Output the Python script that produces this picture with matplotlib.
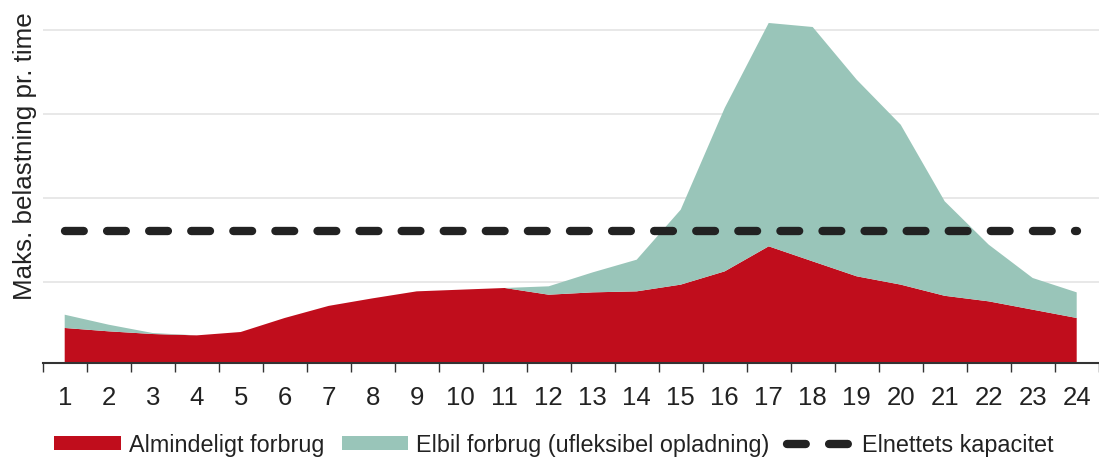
import matplotlib
matplotlib.use("Agg")
import matplotlib.pyplot as plt
import numpy as np
from matplotlib.patches import Patch
from matplotlib.lines import Line2D

plt.rcParams['font.family'] = ['Liberation Sans', 'DejaVu Sans']
plt.rcParams['lines.scale_dashes'] = False

hours = list(range(1, 25))
hour_labels = [str(h) for h in hours]
almindeligt = [0.417, 0.377, 0.345, 0.329, 0.369, 0.536, 0.680, 0.770, 0.853, 0.873, 0.893, 0.813,
               0.841, 0.853, 0.933, 1.091, 1.389, 1.210, 1.032, 0.933, 0.800, 0.734, 0.635, 0.536]
elbil = [0.158, 0.079, 0.012, 0.000, 0.000, 0.000, 0.000, 0.000, 0.000, 0.000, 0.000, 0.100,
         0.238, 0.377, 0.892, 1.945, 2.659, 2.790, 2.341, 1.904, 1.125, 0.675, 0.377, 0.305]
kapacitet = [1.57] * 24

legend_labels = ["Almindeligt forbrug", "Elbil forbrug (ufleksibel opladning)", "Elnettets kapacitet"]

RED = "#C00D1C"
GREEN = "#99C5B9"
DASH = "#222222"

fig = plt.figure(figsize=(10.99, 4.60), dpi=100)
ax = fig.add_axes([42.7 / 1099, 96 / 460, 1056 / 1099, 364 / 460])

ax.stackplot(hours, almindeligt, elbil, colors=[RED, GREEN], linewidth=0, zorder=2)
ax.plot(hours, kapacitet, color=DASH, linewidth=6, dashes=(13.5, 16.8),
        dash_capstyle='round', solid_capstyle='round', zorder=3)

ax.set_xlim(0.5, 24.5)
ax.set_ylim(0, 364 / 84)

# gridlines
ax.set_yticks(np.arange(1, 5) - 0.03)
ax.set_yticklabels([])
ax.tick_params(axis='y', length=0)
ax.yaxis.grid(True, color="#E2E2E2", linewidth=1.1, zorder=0)
ax.set_axisbelow(True)

# x ticks: boundaries as major ticks, labels centered as minor
ax.set_xticks(np.arange(0.5, 25.5, 1.0))
ax.set_xticklabels([])
ax.set_xticks(hours, minor=True)
ax.set_xticklabels(hour_labels, minor=True, fontsize=18.5, color="#222222")
ax.tick_params(axis='x', which='major', length=6.3, width=1.0, color="#333333", direction='out')
ax.tick_params(axis='x', which='minor', length=0, pad=15.5)

for s in ['top', 'right', 'left']:
    ax.spines[s].set_visible(False)
ax.spines['bottom'].set_color("#333333")
ax.spines['bottom'].set_linewidth(1.5)
ax.spines['bottom'].set_zorder(4)

fig.text(25 / 1099, 1 - 156 / 460, "Maks. belastning pr. time", rotation=90,
         ha='center', va='center', fontsize=18.7, color="#222222")

handles = [Patch(facecolor=RED, edgecolor='none'),
           Patch(facecolor=GREEN, edgecolor='none'),
           Line2D([0], [0], color=DASH, linewidth=6, dashes=(13.5, 16.8), dash_capstyle='round')]
leg = fig.legend(handles, legend_labels, loc='center left', bbox_to_anchor=(54 / 1099, 1 - 446 / 460),
                 ncol=3, frameon=False, fontsize=16.8, handlelength=2.85, handleheight=0.55,
                 handletextpad=0.35, columnspacing=0.75, borderpad=0, borderaxespad=0)
for t in leg.get_texts():
    t.set_color("#222222")

fig.savefig("out.png", dpi=100)
